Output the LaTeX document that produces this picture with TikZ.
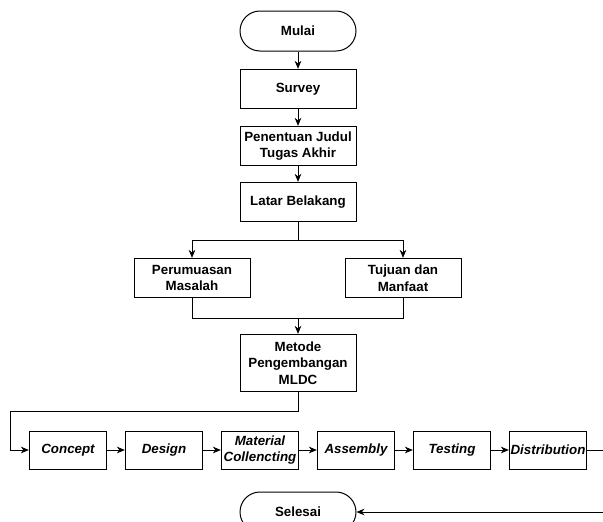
\documentclass[tikz,border=0pt]{standalone}
\usepackage{fontspec}
\setmainfont{Liberation Sans}
\usetikzlibrary{arrows.meta}
\begin{document}
\begin{tikzpicture}[x=0.75pt,y=-0.75pt,
  box/.style={draw, line width=0.75pt, align=center, inner sep=1pt,
    font=\fontsize{10}{12.4}\selectfont\bfseries, minimum width=87pt, minimum height=29.5pt},
  stage/.style={box, font=\fontsize{10}{12.4}\selectfont\bfseries\itshape, minimum width=58pt, minimum height=28.5pt, inner sep=0pt},
  term/.style={box, rounded corners=15pt, minimum height=30pt},
  link/.style={line width=0.75pt},
  arr/.style={link, -{Stealth[length=6pt,width=5pt]}}]
\useasboundingbox (0,0) rectangle (603,521);
% main column
\node[term] (mulai) at (298,31) {Mulai};
\node[box] (survey) at (298,89) {Survey};
\node[box] (judul) at (298,146) {Penentuan Judul\\Tugas Akhir};
\node[box] (latar) at (298,202) {Latar Belakang};
\node[box] (rumusan) at (192,278) {Perumuasan\\Masalah};
\node[box] (tujuan) at (403,278) {Tujuan dan\\Manfaat};
\node[box, minimum height=43pt] (metode) at (298,363) {Metode\\Pengembangan\\MLDC};
% MLDC stages
\node[stage] (concept) at (68,450) {Concept};
\node[stage] (design) at (164,450) {Design};
\node[stage] (material) at (260,450) {Material\\Collencting};
\node[stage] (assembly) at (356,450) {Assembly};
\node[stage] (testing) at (452,450) {Testing};
\node[stage] (distribution) at (548,450) {Distribution};
\node[term] (selesai) at (298,512) {Selesai};
% helper points
\coordinate (split) at (298,240);
\coordinate (join) at (298,318);
\coordinate (turn) at (10,411);
\coordinate (rtop) at (607,450);
\coordinate (rbot) at (607,512);
% connectors
\draw[arr] (mulai) -- (survey);
\draw[arr] (survey) -- (judul);
\draw[arr] (judul) -- (latar);
\draw[link] (latar.south) -- (split);
\draw[arr] (split) -| (rumusan.north);
\draw[arr] (split) -| (tujuan.north);
\draw[link] (rumusan.south) |- (join);
\draw[link] (tujuan.south) |- (join);
\draw[arr] (join) -- (metode.north);
\draw[arr] (metode.south) |- (turn) |- (concept.west);
\draw[arr] (concept) -- (design);
\draw[arr] (design) -- (material);
\draw[arr] (material) -- (assembly);
\draw[arr] (assembly) -- (testing);
\draw[arr] (testing) -- (distribution);
\draw[arr] (distribution.east) -- (rtop) -- (rbot) -- (selesai.east);
\end{tikzpicture}
\end{document}
